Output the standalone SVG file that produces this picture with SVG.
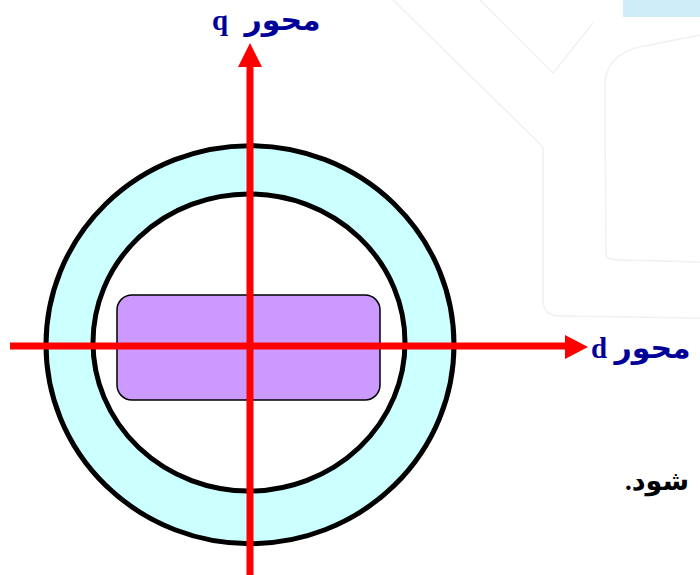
<svg xmlns="http://www.w3.org/2000/svg" width="700" height="575" viewBox="0 0 700 575">
<style>
.wm{fill:none;stroke:#f1f1f1;stroke-width:1.5}
.ring{stroke:#000;stroke-width:5}
.axis{stroke:#ff0000;stroke-width:7;fill:none}
.head{fill:#ff0000}
.lbl{font-family:"Liberation Serif","DejaVu Sans",serif;font-weight:bold;font-size:29px;fill:#000099}
.ar{font-size:30px}
.txt{font-family:"Liberation Serif","DejaVu Sans",serif;font-weight:bold;font-size:27px;fill:#000}
</style>
<rect width="700" height="575" fill="#fff"/>
<g id="background">
<rect x="623" y="0" width="77" height="17" fill="#cfecf9"/>
<path class="wm" d="M393,0 L543,147 L543,300 Q543,316 560,316 L700,318"/>
<path class="wm" d="M480,0 L553,73 L593,23"/>
<path class="wm" d="M605,120 L605,80 Q610,50 650,45 L700,35"/>
<path class="wm" d="M605,120 L606,255 Q607,260 620,260 L700,262"/>
</g>
<g id="rotor">
<ellipse id="outer" class="ring" cx="250" cy="344.7" rx="204" ry="199" fill="#ccffff"/>
<ellipse id="inner" class="ring" cx="249" cy="342.5" rx="156" ry="148.5" fill="#fff"/>
<rect id="pole" x="117" y="295" width="263" height="105" rx="15" ry="15" fill="#cc99ff" stroke="#000" stroke-width="1.5"/>
</g>
<g id="connectors">
<line class="axis" x1="10" y1="346" x2="567" y2="346"/>
<polygon class="head" points="565,335 588,347 565,359"/>
<line class="axis" x1="250" y1="575" x2="250" y2="65"/>
<polygon class="head" points="238,67 250,43 262,67"/>
</g>
<g id="label-q">
<text class="lbl" x="212" y="30" direction="rtl" text-anchor="end" word-spacing="9"><tspan class="ar">محور</tspan> q</text>
</g>
<g id="label-d">
<text class="lbl" x="591" y="358" direction="rtl" text-anchor="end"><tspan class="ar">محور</tspan> d</text>
</g>
<g id="note">
<text class="txt" x="689" y="490" direction="rtl" text-anchor="start">شود.</text>
</g>
</svg>
